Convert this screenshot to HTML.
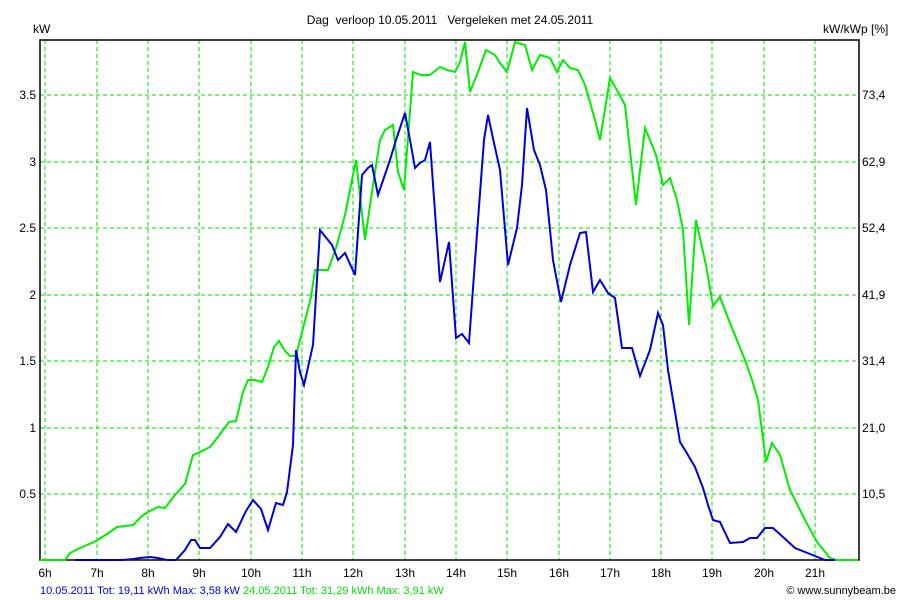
<!DOCTYPE html><html><head><style>body{margin:0;background:#fff}svg{display:block;font-family:"Liberation Sans",sans-serif;font-size:12px}text{white-space:pre}</style></head><body>
<svg width="900" height="600" xmlns="http://www.w3.org/2000/svg">
<rect width="900" height="600" fill="#fff"/>
<g stroke="#00e000" stroke-dasharray="4,3" stroke-width="1">
<line x1="40" x2="859" y1="494" y2="494"/><line x1="40" x2="859" y1="428" y2="428"/><line x1="40" x2="859" y1="361" y2="361"/><line x1="40" x2="859" y1="295" y2="295"/><line x1="40" x2="859" y1="228" y2="228"/><line x1="40" x2="859" y1="162" y2="162"/><line x1="40" x2="859" y1="95" y2="95"/>
<line x1="45" x2="45" y1="40" y2="560"/><line x1="97" x2="97" y1="40" y2="560"/><line x1="148" x2="148" y1="40" y2="560"/><line x1="199" x2="199" y1="40" y2="560"/><line x1="251" x2="251" y1="40" y2="560"/><line x1="302" x2="302" y1="40" y2="560"/><line x1="353" x2="353" y1="40" y2="560"/><line x1="405" x2="405" y1="40" y2="560"/><line x1="456" x2="456" y1="40" y2="560"/><line x1="507" x2="507" y1="40" y2="560"/><line x1="559" x2="559" y1="40" y2="560"/><line x1="610" x2="610" y1="40" y2="560"/><line x1="661" x2="661" y1="40" y2="560"/><line x1="712" x2="712" y1="40" y2="560"/><line x1="764" x2="764" y1="40" y2="560"/><line x1="815" x2="815" y1="40" y2="560"/>
</g>
<rect x="40" y="40" width="819" height="520" fill="none" stroke="#000" stroke-width="1.5"/>
<polyline fill="none" stroke="#00ee00" stroke-width="2" points="40,560 65,560 70,553 80,548 96,541 110,532 117,527 133,525 142,516 148,512 158,507 165,508 175,495 185,484 193,455 200,452 210,447 218,437 229,422 236,421 243,392 248,380 255,380 262,382 268,367 274,347 279,341 285,351 290,356 296,356 300,340 311,297 315,270 328,270 336,248 345,215 350,190 356,160 365,240 373,185 380,140 385,130 393,125 398,172 404,190 413,72 421,75 430,75 440,67 447,70 455,72 460,62 465,42 470,92 478,72 486,50 495,55 500,63 507,72 515,42 525,45 532,70 540,55 550,58 557,72 563,60 570,68 578,70 585,85 595,120 600,140 610,78 618,92 625,105 636,205 645,128 650,140 656,155 663,185 670,178 677,200 683,230 689,325 696,220 706,265 713,306 720,297 728,318 745,360 752,380 758,400 766,462 772,443 780,455 790,490 805,520 817,542 830,558 836,560 858,560"/>
<polyline fill="none" stroke="#0000dd" stroke-width="2" points="75,560 123,560 133,559 140,558 150,557 158,558 167,560 176,560 185,550 191,540 195,540 200,548 210,548 220,537 228,524 236,532 246,511 253,500 261,509 268,530 276,503 283,505 287,492 293,445 296,350 300,372 304,385 313,345 320,230 332,245 338,260 345,253 355,275 362,175 368,168 372,165 378,195 390,160 396,140 405,113 410,140 415,168 420,163 425,160 430,142 440,282 449,242 456,338 462,334 469,343 478,220 484,140 488,115 494,143 500,170 508,265 517,228 522,185 527,108 534,150 540,165 546,190 553,260 561,302 570,265 580,233 586,232 593,292 600,280 608,293 615,298 622,348 632,348 640,376 650,350 658,313 663,325 668,370 680,442 685,450 695,467 703,488 708,505 713,520 720,522 730,543 743,542 750,538 757,538 765,528 773,528 783,537 795,548 805,552 815,556 825,560 835,560"/>
<g fill="#000" text-anchor="end">
<text x="36" y="498">0.5</text><text x="36" y="432">1</text><text x="36" y="365">1.5</text><text x="36" y="299">2</text><text x="36" y="232">2.5</text><text x="36" y="166">3</text><text x="36" y="99">3.5</text>
</g>
<g fill="#000">
<text x="862" y="498">10,5</text><text x="862" y="432">21,0</text><text x="862" y="365">31,4</text><text x="862" y="299">41,9</text><text x="862" y="232">52,4</text><text x="862" y="166">62,9</text><text x="862" y="99">73,4</text>
<text x="33" y="33">kW</text><text x="823" y="33">kW/kWp [%]</text>
<text x="450" y="24" text-anchor="middle" xml:space="preserve">Dag  verloop 10.05.2011   Vergeleken met 24.05.2011</text>
</g>
<g fill="#000" text-anchor="middle">
<text x="45" y="577">6h</text><text x="97" y="577">7h</text><text x="148" y="577">8h</text><text x="199" y="577">9h</text><text x="251" y="577">10h</text><text x="302" y="577">11h</text><text x="353" y="577">12h</text><text x="405" y="577">13h</text><text x="456" y="577">14h</text><text x="507" y="577">15h</text><text x="559" y="577">16h</text><text x="610" y="577">17h</text><text x="661" y="577">18h</text><text x="712" y="577">19h</text><text x="764" y="577">20h</text><text x="815" y="577">21h</text>
</g>
<text x="40" y="594" font-size="11" fill="#0000dd">10.05.2011 Tot: 19,11 kWh Max: 3,58 kW <tspan fill="#00dd00">24.05.2011 Tot: 31,29 kWh Max: 3,91 kW</tspan></text>
<text x="896" y="594" font-size="11" fill="#000" text-anchor="end">© www.sunnybeam.be</text>
</svg></body></html>
